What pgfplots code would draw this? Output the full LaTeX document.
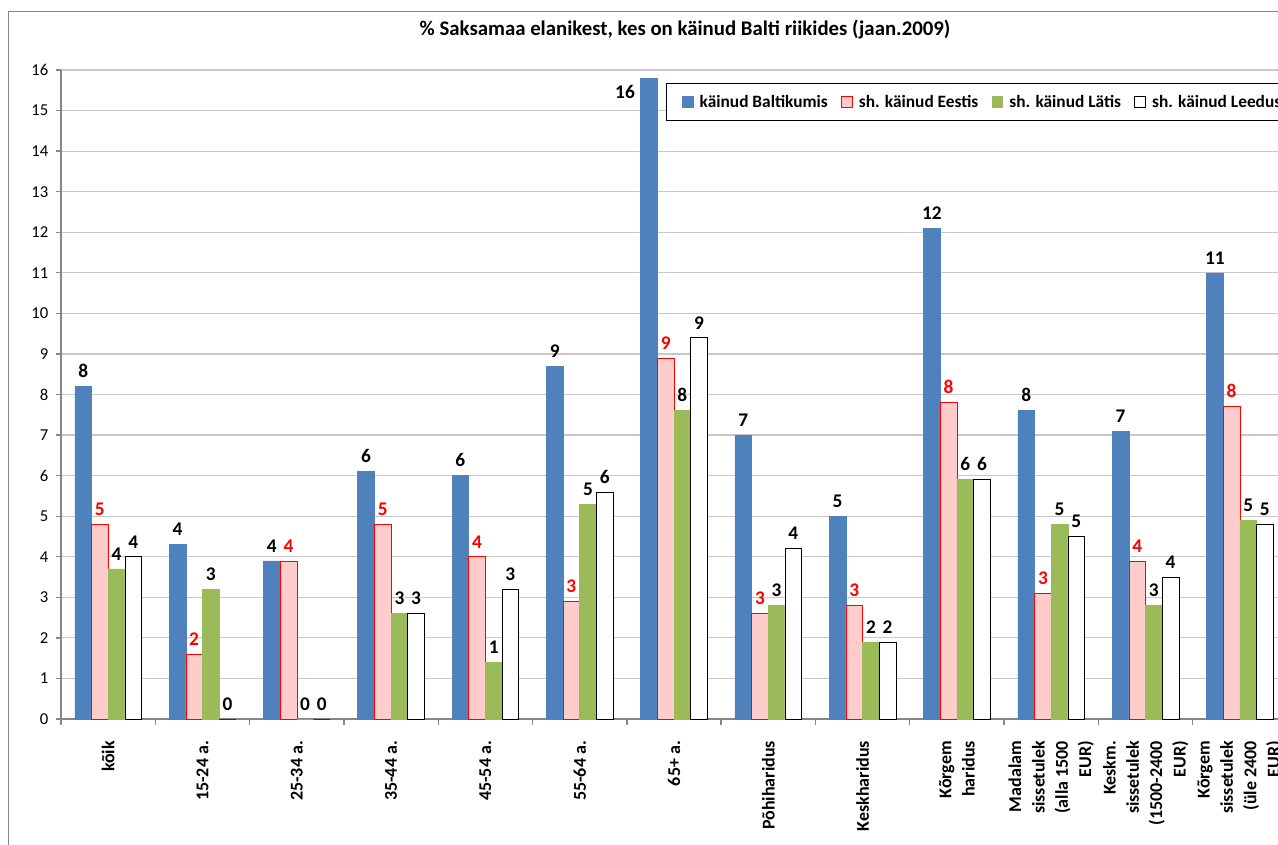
\documentclass[border=0pt]{standalone}
\usepackage{fontspec}
\setmainfont{Carlito}
\usepackage{pgfplots}
\pgfplotsset{compat=1.18}
\definecolor{cblue}{RGB}{79,129,189}
\definecolor{cpink}{RGB}{255,204,204}
\definecolor{cgreen}{RGB}{155,187,89}
\definecolor{cgrid}{RGB}{200,200,200}
\definecolor{caxis}{RGB}{134,134,134}
\begin{document}
\begin{tikzpicture}[x=0.75pt,y=0.75pt]
\useasboundingbox (0,0) rectangle (1278,844);
\clip (0,0) rectangle (1278,844);
\fill[white] (0,0) rectangle (1278,844);
\draw[caxis, line width=0.75pt] (8,-10) -- (8,832) -- (1400,832);
\node[font=\bfseries\fontsize{15.6}{18}\selectfont] at (685,814) {\% Saksamaa elanikest, kes on käinud Balti riikides (jaan.2009)};
\begin{axis}[
  at={(45.75pt,93.75pt)}, anchor=south west,
  scale only axis, width=919.5pt, height=486.75pt,
  xmin=-0.5, xmax=12.5, ymin=0, ymax=16,
  ytick={0,1,...,16},
  ymajorgrids, grid style={cgrid, line width=0.9pt},
  axis lines*=left,
  axis line style={draw=caxis, line width=1.3pt, -},
  tick align=outside,
  ytick pos=left, xtick pos=bottom,
  y tick style={draw=caxis, line width=1pt},
  major tick length=4pt,
  xtick={0,...,12},
  major x tick style={draw=none},
  minor xtick={-0.5,0.5,...,12.5},
  minor x tick style={draw=caxis, line width=1pt},
  minor tick length=4.5pt,
  /pgf/number format/assume math mode=true,
  yticklabel style={font=\fontsize{12.5}{14}\selectfont, xshift=-2pt},
  xticklabels={k\~{o}ik,15-24 a.,25-34 a.,35-44 a.,45-54 a.,55-64 a.,65+ a.,P\~{o}hiharidus,Keskharidus,{K\~{o}rgem\\haridus},{Madalam\\sissetulek\\(alla 1500\\EUR)},{Keskm.\\sissetulek\\(1500-2400\\EUR)},{K\~{o}rgem\\sissetulek\\(üle 2400\\EUR)}},
  xticklabel style={rotate=90, anchor=east, align=right, font=\bfseries\fontsize{13.5}{17.5}\selectfont},
  xticklabel shift=9pt,
  ybar=0pt, bar width=12.5pt,
  nodes near coords={\pgfmathprintnumber[fixed,precision=0]{\pgfplotspointmeta}},
  visualization depends on={ifthenelse(y>15,1,0) \as \tall},
  every node near coord/.append style={font=\bfseries\fontsize{14.5}{16}\selectfont, yshift=3pt,
     xshift={-18pt*\tall}, yshift={-22pt*\tall}},
  legend columns=-1,
  legend style={at={(0.4935,0.98)}, anchor=north west, draw=black, line width=0.9pt,
    font=\bfseries\fontsize{13}{16}\selectfont, inner ysep=6.5pt, inner xsep=11.5pt,
    /tikz/every odd column/.append style={column sep=2.5pt},
    /tikz/every even column/.append style={column sep=8pt}},
  legend image code/.code={\draw[#1, line width=0.8pt] (0pt,-4pt) rectangle (8pt,4pt);},
]
\addplot[fill=cblue, draw=cblue] coordinates {(0,8.2) (1,4.3) (2,3.9) (3,6.1) (4,6.0) (5,8.7) (6,15.8) (7,7.0) (8,5.0) (9,12.1) (10,7.6) (11,7.1) (12,11.0)};
\addplot[fill=cpink, draw=red, every node near coord/.append style={text=red}] coordinates {(0,4.8) (1,1.6) (2,3.9) (3,4.8) (4,4.0) (5,2.9) (6,8.9) (7,2.6) (8,2.8) (9,7.8) (10,3.1) (11,3.9) (12,7.7)};
\addplot[fill=cgreen, draw=cgreen] coordinates {(0,3.7) (1,3.2) (2,0) (3,2.6) (4,1.4) (5,5.3) (6,7.6) (7,2.8) (8,1.9) (9,5.9) (10,4.8) (11,2.8) (12,4.9)};
\addplot[fill=white, draw=black] coordinates {(0,4.0) (1,0) (2,0) (3,2.6) (4,3.2) (5,5.6) (6,9.4) (7,4.2) (8,1.9) (9,5.9) (10,4.5) (11,3.5) (12,4.8)};
\legend{käinud Baltikumis, sh. käinud Eestis, sh. käinud Lätis, sh. käinud Leedus}
\end{axis}
\end{tikzpicture}
\end{document}
